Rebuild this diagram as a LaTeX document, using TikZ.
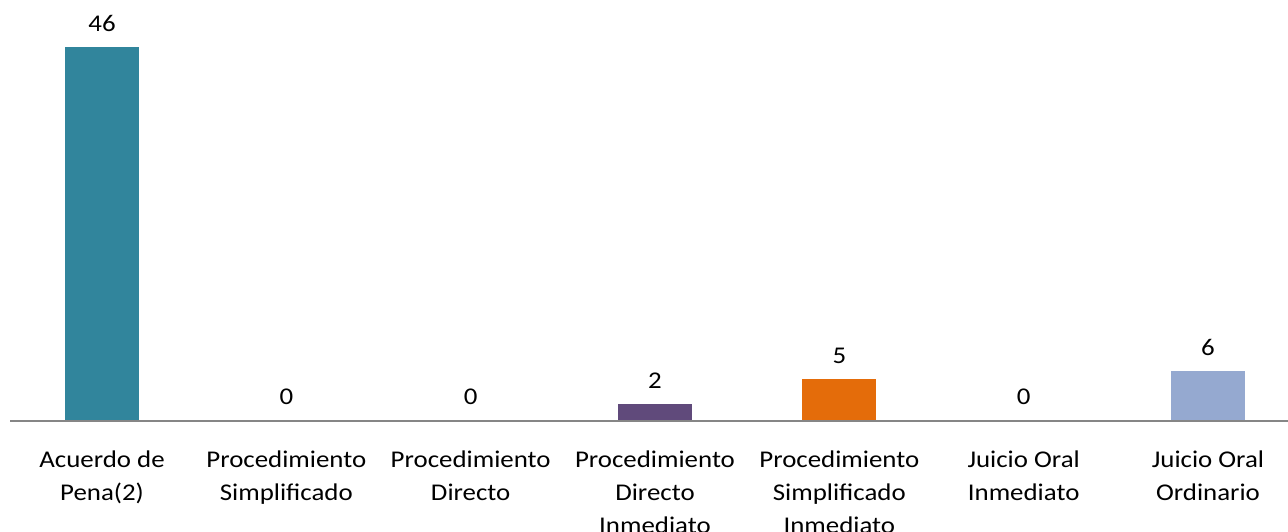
\documentclass[tikz,border=0pt]{standalone}
\usepackage{fontspec}
\setmainfont{Carlito}[FakeStretch=1.12]
\definecolor{cteal}{HTML}{31859C}
\definecolor{cpurple}{HTML}{604A7B}
\definecolor{corange}{HTML}{E46C0A}
\definecolor{cblue}{HTML}{95A9D0}
\definecolor{caxis}{HTML}{868686}
\begin{document}
\begin{tikzpicture}[x=1pt,y=-1pt,
  bar/.style={draw=none,minimum width=74pt,inner sep=0pt,anchor=south},
  val/.style={font=\fontsize{24}{28}\selectfont,anchor=south,inner sep=0pt},
  cat/.style={font=\fontsize{24}{33}\selectfont,align=center,anchor=north,inner sep=0pt}]
\useasboundingbox (0,0) rectangle (1288,532);
\def\unit{8.11}
\draw[caxis,line width=2pt] (10,421) coordinate (axL) -- (1288,421) coordinate (axR);
% bars
\foreach \i/\v/\c in {1/46/cteal,4/2/cpurple,5/5/corange,7/6/cblue}{
  \pgfmathsetmacro\xc{102+(\i-1)*184.33}
  \pgfmathsetmacro\h{\v*\unit}
  \node[bar,fill=\c,minimum height=\h pt] (b\i) at (\xc,420) {};
}
% values
\foreach \i/\v in {1/46,2/0,3/0,4/2,5/5,6/0,7/6}{
  \pgfmathsetmacro\xc{102+(\i-1)*184.33}
  \pgfmathsetmacro\yt{421-\v*\unit-16.5}
  \node[val] (v\i) at (\xc,\yt) {\v};
}
% categories
\foreach \i/\t in {1/{Acuerdo de\\Pena(2)},2/{Procedimiento\\Simplificado},3/{Procedimiento\\Directo},4/{Procedimiento\\Directo\\Inmediato},5/{Procedimiento\\Simplificado\\Inmediato},6/{Juicio Oral\\Inmediato},7/{Juicio Oral\\Ordinario}}{
  \pgfmathsetmacro\xc{102+(\i-1)*184.33}
  \node[cat] (c\i) at (\xc,451) {\t};
}
\end{tikzpicture}
\end{document}
